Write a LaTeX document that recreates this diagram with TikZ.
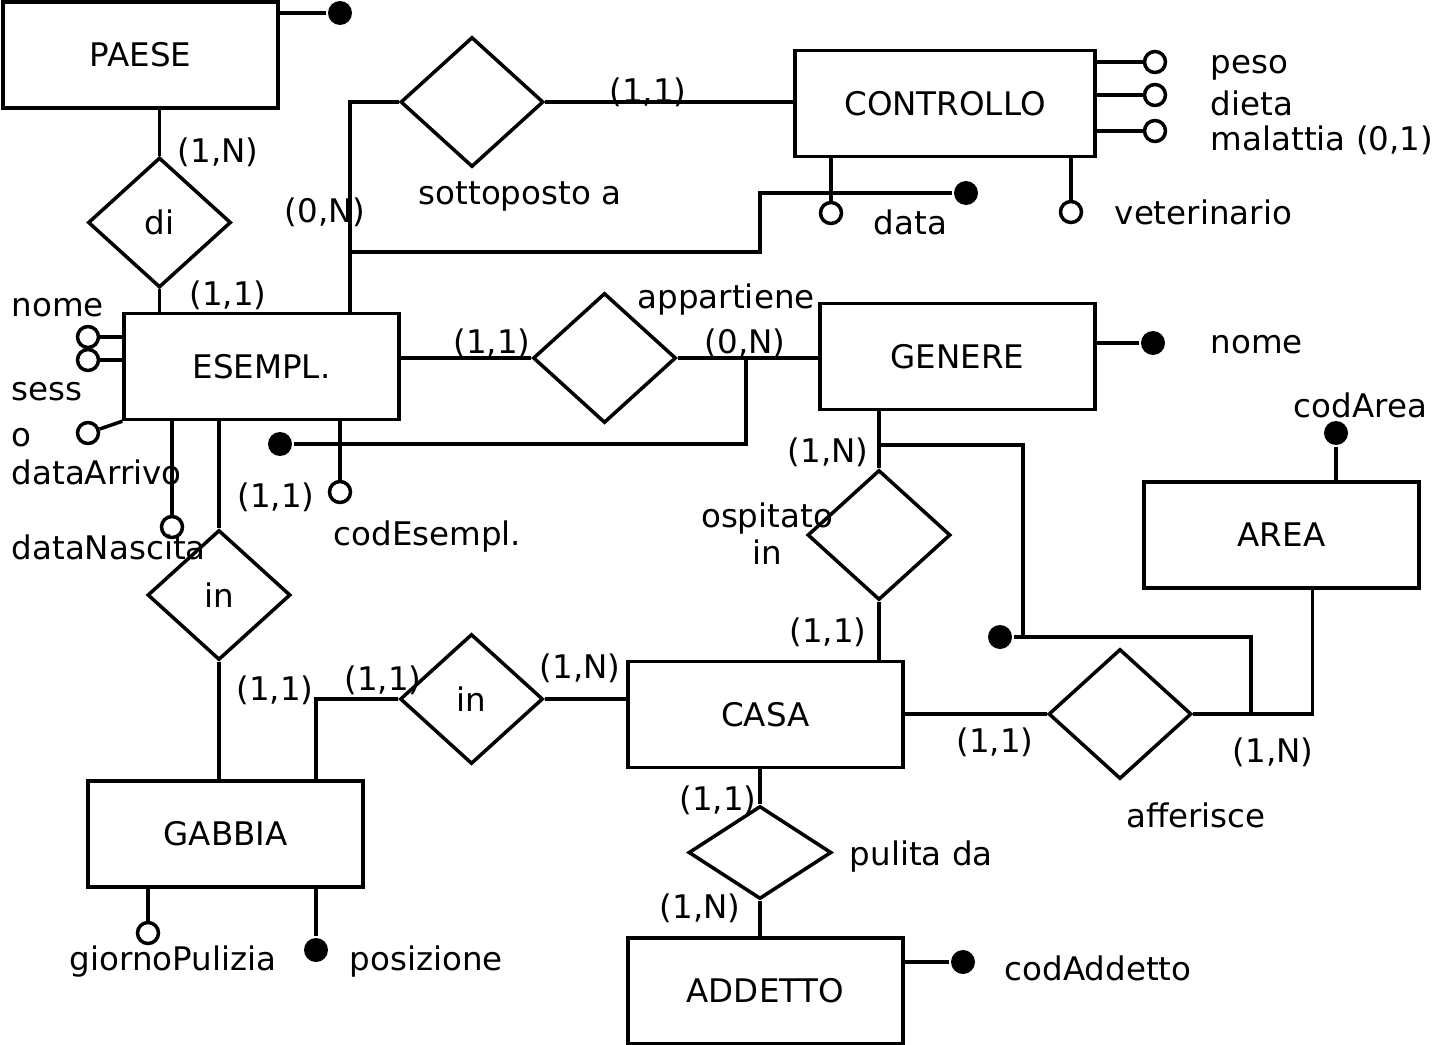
\documentclass[tikz,border=0pt]{standalone}
\usepackage{fontspec}
\setmainfont{DejaVu Sans}
\usetikzlibrary{shapes.geometric}

\begin{document}
\begin{tikzpicture}[x=0.02cm, y=-0.02cm, line width=2pt,
    font=\fontsize{18.5}{21}\selectfont,
    entity/.style={rectangle, draw, minimum width=5.5cm, minimum height=2.12cm, inner sep=0pt},
    relation/.style={diamond, draw, minimum width=2.86cm, minimum height=2.6cm, inner sep=0pt},
    attr/.style={circle, draw, fill=white, minimum size=0.42cm, inner sep=0pt},
    keyattr/.style={circle, fill=black, minimum size=0.48cm, inner sep=0pt},
    lbl/.style={inner sep=0pt},
    lblw/.style={inner sep=0pt, anchor=west}]
    \useasboundingbox (0,0) rectangle (1438,1045);

    % Entities
    \node (paese) [entity] at (140.5,55) {PAESE};
    \node (esempl) [entity] at (261.5,366.5) {ESEMPL.};
    \node (controllo) [entity, minimum width=6cm] at (945,103.5) {CONTROLLO};
    \node (genere) [entity] at (957.5,356.5) {GENERE};
    \node (area) [entity] at (1281.5,535) {AREA};
    \node (casa) [entity] at (765.5,714.5) {CASA};
    \node (gabbia) [entity] at (225.5,834) {GABBIA};
    \node (addetto) [entity] at (765.5,991) {ADDETTO};

    % Relationships
    \node (di) [relation] at (159.5,222.5) {di};
    \node (sotto) [relation] at (472,102) {};
    \node (app) [relation] at (604.5,358) {};
    \node (osp) [relation] at (879,535) {};
    \node (inGab) [relation] at (219,595) {in};
    \node (inCasa) [relation] at (471.5,699) {in};
    \node (aff) [relation] at (1120,714) {};
    \node (pulita) [relation, minimum height=1.86cm] at (760,852.5) {};

    % Attributes
    \node (kPaese) [keyattr] at (340,13) {};
    \node (aNome) [attr] at (88,337) {};
    \node (aSesso) [attr] at (88,360) {};
    \node (aArrivo) [attr] at (88,433) {};
    \node (aNascita) [attr] at (172,527) {};
    \node (aCodE) [attr] at (340,492) {};
    \node (kEsempl) [keyattr] at (280,444) {};
    \node (aPeso) [attr] at (1155,62) {};
    \node (aDieta) [attr] at (1155,95) {};
    \node (aMal) [attr] at (1155,131) {};
    \node (aData) [attr] at (831,213) {};
    \node (aVet) [attr] at (1071,212) {};
    \node (kCtrl) [keyattr] at (966,193) {};
    \node (kGen) [keyattr] at (1153,343) {};
    \node (kArea) [keyattr] at (1336,433) {};
    \node (kCasa) [keyattr] at (1000,637) {};
    \node (aGiorno) [attr] at (148,933) {};
    \node (kPos) [keyattr] at (316,950) {};
    \node (kAdd) [keyattr] at (963,962) {};

    % Junctions
    \coordinate (jSotto) at (350,252);
    \coordinate (jCtrl) at (760,193);
    \coordinate (jApp) at (746,358);
    \coordinate (jOsp) at (879,445);
    \coordinate (jCasa) at (1023,637);
    \coordinate (jAff) at (1251,714);

    % Links
    \draw (di) -- (di |- paese.south);
    \draw (di) -- (di |- esempl.north);
    \draw (sotto.west) -| (jSotto |- esempl.north);
    \draw (sotto.east) -- (sotto.east -| controllo.west);
    \draw (app.west) -- (app.west -| esempl.east);
    \draw (app.east) -- (app.east -| genere.west);
    \draw (osp) -- (osp |- genere.south);
    \draw (osp) -- (osp |- casa.north);
    \draw (inGab) -- (inGab |- esempl.south);
    \draw (inGab) -- (inGab |- gabbia.north);
    \draw (inCasa.west) -| (kPos |- gabbia.north);
    \draw (inCasa.east) -- (inCasa.east -| casa.west);
    \draw (aff.west) -- (aff.west -| casa.east);
    \draw (aff.east) -| ([xshift=0.62cm]area.south);
    \draw (pulita) -- (pulita |- casa.south);
    \draw (pulita) -- (pulita |- addetto.north);

    % Attribute lines
    \draw (kPaese) -- (kPaese -| paese.east);
    \draw (aNome) -- (aNome -| esempl.west);
    \draw (aSesso) -- (aSesso -| esempl.west);
    \draw (aArrivo) -- (esempl.south west);
    \draw (aNascita) -- (aNascita |- esempl.south);
    \draw (aCodE) -- (aCodE |- esempl.south);
    \draw (aPeso) -- (aPeso -| controllo.east);
    \draw (aDieta) -- (aDieta -| controllo.east);
    \draw (aMal) -- (aMal -| controllo.east);
    \draw (aData) -- (aData |- controllo.south);
    \draw (aVet) -- (aVet |- controllo.south);
    \draw (kGen) -- (kGen -| genere.east);
    \draw (kArea) -- (kArea |- area.north);
    \draw (aGiorno) -- (aGiorno |- gabbia.south);
    \draw (kPos) -- (kPos |- gabbia.south);
    \draw (kAdd) -- (kAdd -| addetto.east);

    % Identifiers
    \draw (jSotto) -| (jCtrl) -- (kCtrl);
    \draw (kEsempl) -| (jApp);
    \draw (jOsp) -| (jCasa);
    \draw (kCasa) -| (jAff);

    % Attribute names
    \node (tNome) [lblw] at (10,308) {nome};
    \node (tSess) [lblw] at (10,392) {sess};
    \node (tSessO) [lblw] at (10,438) {o};
    \node (tArrivo) [lblw] at (10,472) {dataArrivo};
    \node (tNascita) [lblw] at (10,547) {dataNascita};
    \node (tCodE) [lblw] at (332,537) {codEsempl.};
    \node (tPeso) [lblw] at (1209,68) {peso};
    \node (tDieta) [lblw] at (1209,103) {dieta};
    \node (tMal) [lblw] at (1209,140) {malattia (0,1)};
    \node (tData) [lblw] at (872,222) {data};
    \node (tVet) [lblw] at (1113,212) {veterinario};
    \node (tNomeG) [lblw] at (1209,345) {nome};
    \node (tCodA) [lblw] at (1292,405) {codArea};
    \node (tGiorno) [lbl] at (173,962) {giornoPulizia};
    \node (tPos) [lblw] at (348,962) {posizione};
    \node (tCodAdd) [lblw] at (1003,968) {codAddetto};

    % Relationship names
    \node (tSotto) [lblw] at (417,196) {sottoposto a};
    \node (tApp) [lblw] at (636,300) {appartiene};
    \node (tOsp) [lbl, align=center] at (767,534) {ospitato\\in};
    \node (tAff) [lbl] at (1196,815) {afferisce};
    \node (tPulita) [lblw] at (848,857) {pulita da};

    % Cardinalities
    \node (cPaeseDi) [lbl] at (218,152) {(1,N)};
    \node (cEsemplDi) [lbl] at (228,295) {(1,1)};
    \node (cEsemplSotto) [lbl] at (325,212) {(0,N)};
    \node (cCtrlSotto) [lbl] at (648,92) {(1,1)};
    \node (cEsemplApp) [lbl] at (492,343) {(1,1)};
    \node (cGenApp) [lbl] at (745,343) {(0,N)};
    \node (cEsemplIn) [lbl] at (276,497) {(1,1)};
    \node (cGenOsp) [lbl] at (828,452) {(1,N)};
    \node (cCasaOsp) [lbl] at (828,632) {(1,1)};
    \node (cGabIn1) [lbl] at (275,690) {(1,1)};
    \node (cGabIn2) [lbl] at (383,680) {(1,1)};
    \node (cCasaIn) [lbl] at (580,668) {(1,N)};
    \node (cCasaAff) [lbl] at (995,742) {(1,1)};
    \node (cAreaAff) [lbl] at (1273,752) {(1,N)};
    \node (cCasaPul) [lbl] at (718,800) {(1,1)};
    \node (cAddPul) [lbl] at (700,908) {(1,N)};
\end{tikzpicture}
\end{document}
